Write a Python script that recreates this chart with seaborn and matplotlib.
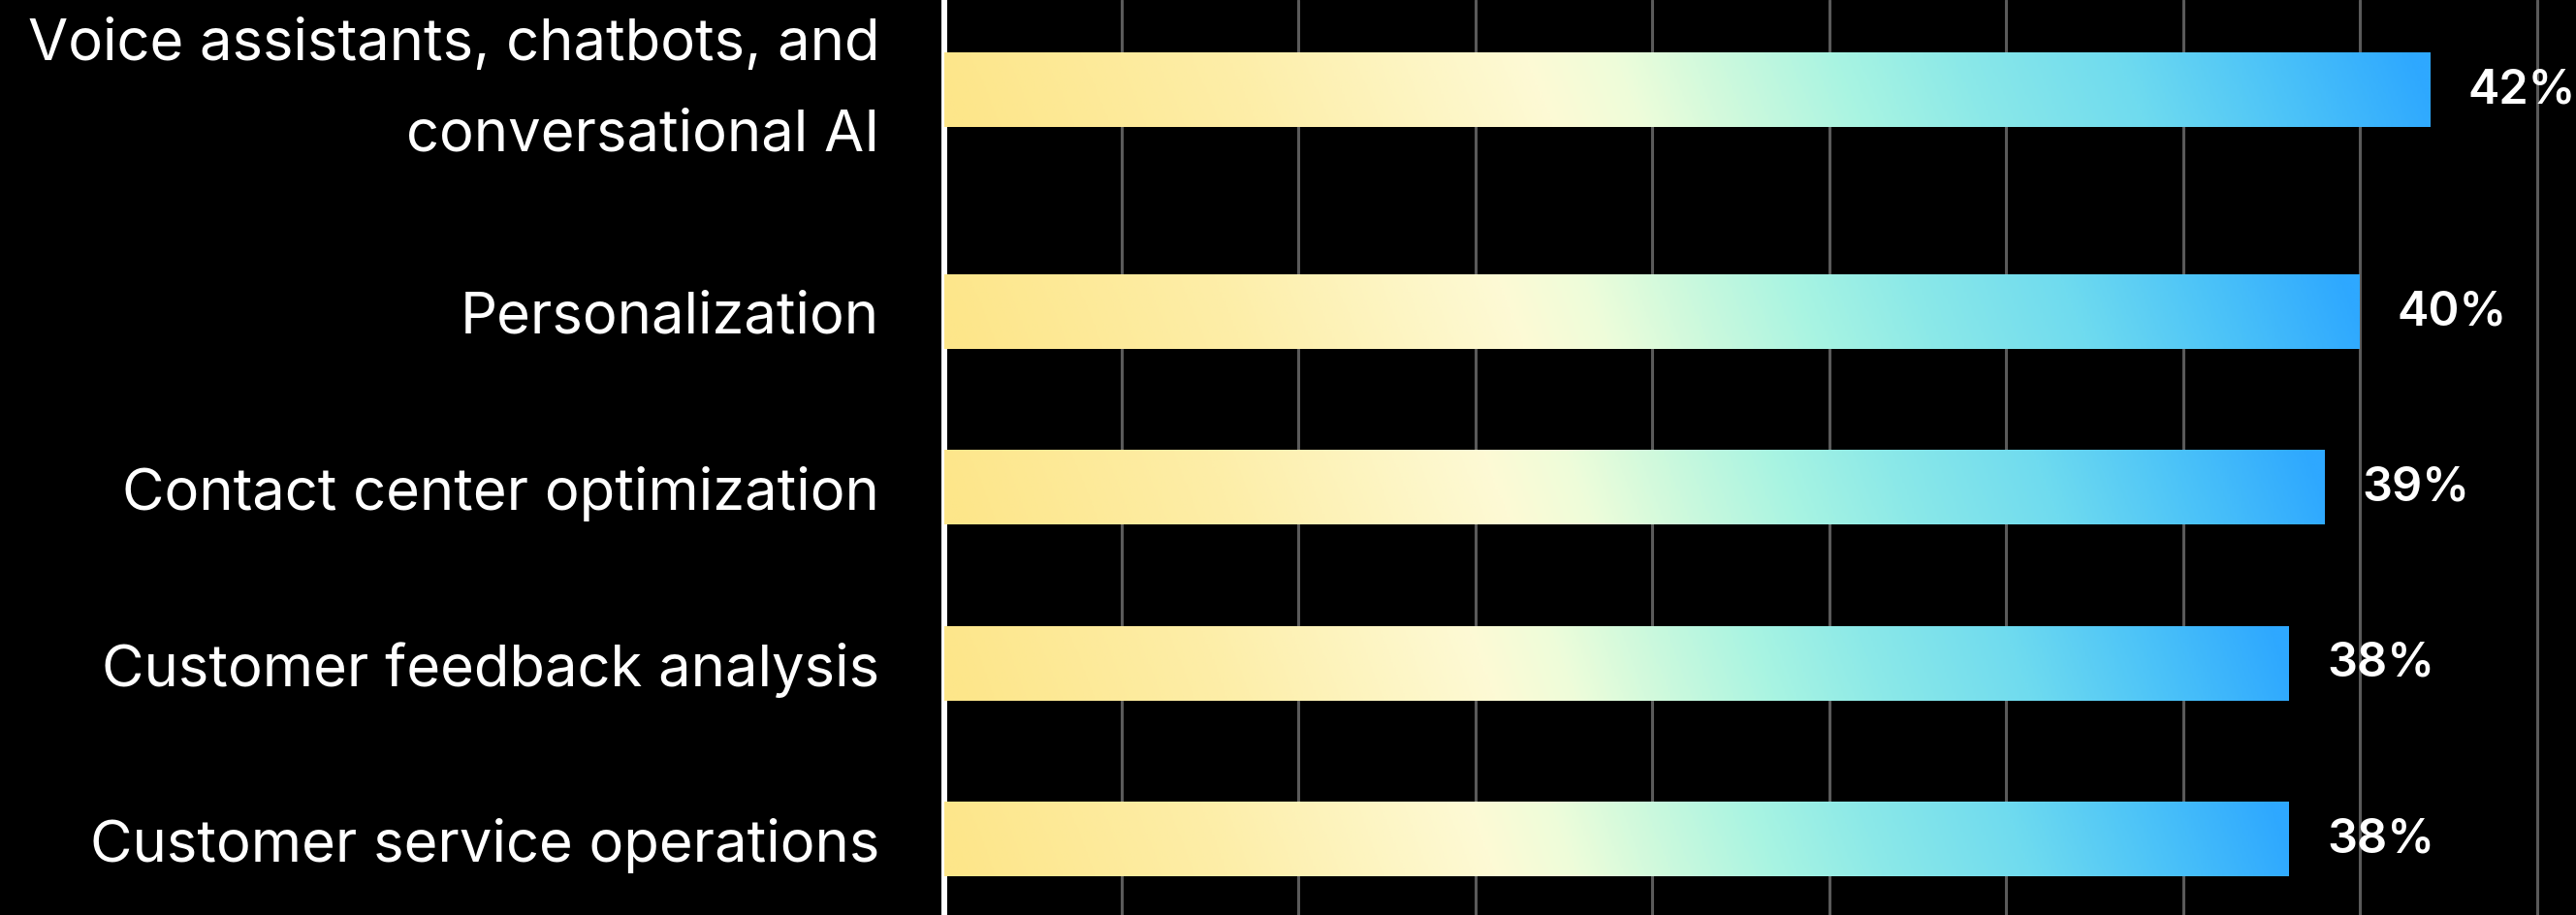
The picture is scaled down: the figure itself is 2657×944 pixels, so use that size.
import numpy as np
import pandas as pd
import matplotlib
matplotlib.use("Agg")
import matplotlib.pyplot as plt
import seaborn as sns
from matplotlib.colors import LinearSegmentedColormap

# ---- data -------------------------------------------------------------
categories = [
    "Voice assistants, chatbots, and\nconversational AI",
    "Personalization",
    "Contact center optimization",
    "Customer feedback analysis",
    "Customer service operations",
]
shares = [42, 40, 39, 38, 38]
value_labels = [f"{v}%" for v in shares]
grid_ticks = [5, 10, 15, 20, 25, 30, 35, 40, 45]

# ---- style ------------------------------------------------------------
sns.set_theme(style="dark")
plt.rcParams["font.family"] = ["Inter", "DejaVu Sans"]

W, H, DPI = 2657, 944, 100
PX_PER_PCT = 36.5
fig = plt.figure(figsize=(W / DPI, H / DPI), dpi=DPI, facecolor="black")
ax_left = 974 / W
ax = fig.add_axes([ax_left, 0, 1 - ax_left, 1])
ax.set_facecolor("black")

# each row gets a base height plus extra room for every additional label line
line_counts = [c.count("\n") + 1 for c in categories]
row_heights = [1 + 0.526 * (n - 1) for n in line_counts]
edges = np.concatenate([[0], np.cumsum(row_heights)])
centers = (edges[:-1] + edges[1:]) / 2

df = pd.DataFrame({"category": categories, "share": shares, "row": centers})
sns.barplot(data=df, x="share", y="row", orient="y", native_scale=True,
            width=0.42, color="#2EA8FF", errorbar=None, ax=ax, zorder=3)

# horizontal gradient fill for each bar (yellow -> cream -> mint -> blue)
cmap = LinearSegmentedColormap.from_list("bar_grad", [
    (0.00, "#FDE68A"),
    (0.20, "#FDEEA8"),
    (0.40, "#FDFAD5"),
    (0.46, "#EEFDDA"),
    (0.53, "#CCF9DD"),
    (0.61, "#A8F4E2"),
    (0.69, "#8CE9E8"),
    (0.80, "#6FDBEF"),
    (0.90, "#4CC3F8"),
    (1.00, "#2EA8FF"),
])
gx = np.linspace(0, 1, 600)
gy = np.linspace(0, 1, 24)
grad = np.clip(gx[None, :] - 0.02 * gy[:, None] + 0.01, 0, 1)

for patch in list(ax.patches):
    x0, y0 = patch.get_x(), patch.get_y()
    w, h = patch.get_width(), patch.get_height()
    ax.imshow(grad, cmap=cmap, vmin=0, vmax=1, aspect="auto",
              extent=[x0, x0 + w, y0 + h, y0], interpolation="bilinear",
              zorder=3.5)
    patch.set_edgecolor("none")

# value labels at the end of each bar
ax.bar_label(ax.containers[0], labels=value_labels, padding=28,
             color="white", fontsize=35, fontweight="semibold", zorder=5)

# axes limits, grid and spines
ax.set_xlim(0, (W - 974) / PX_PER_PCT)
ax.set_ylim(edges[-1] - 0.07, 0.25)
ax.set_xticks(grid_ticks)
ax.set_xticklabels([])
ax.grid(axis="x", color="#5A5A5A", linewidth=2.2)
ax.grid(axis="y", visible=False)
ax.set_axisbelow(True)

ax.set_yticks(centers)
ax.set_yticklabels(categories)
ax.tick_params(axis="y", length=0, pad=48, labelsize=43, labelcolor="white")
ax.tick_params(axis="x", length=0)
for lbl in ax.get_yticklabels():
    if "\n" in lbl.get_text():
        lbl.set_linespacing(1.9)
        lbl.set_verticalalignment("center")
ax.set_xlabel("")
ax.set_ylabel("")

for side in ["top", "right", "bottom"]:
    ax.spines[side].set_visible(False)
ax.spines["left"].set_color("white")
ax.spines["left"].set_linewidth(4.3)

fig.savefig("out.png", dpi=DPI, facecolor="black")
